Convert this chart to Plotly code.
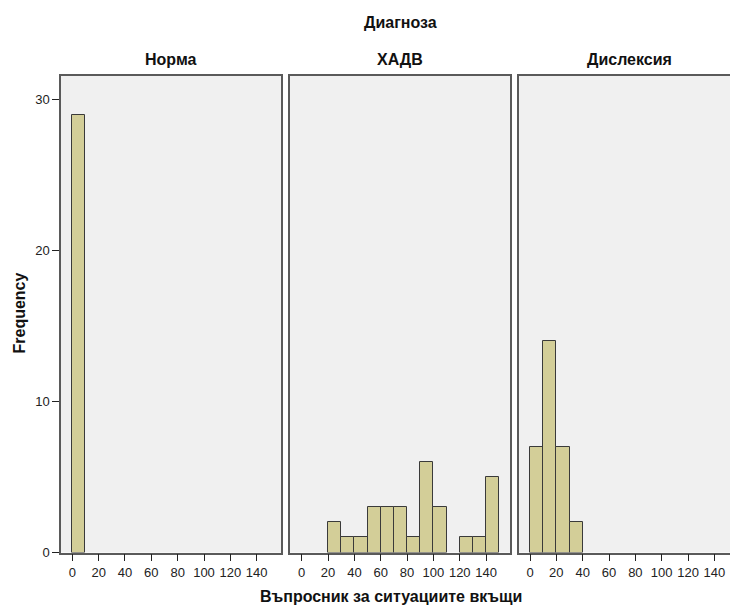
import plotly.graph_objects as go

panels = ["Норма", "ХАДВ", "Дислексия"]
bin_starts = [0, 10, 20, 30, 40, 50, 60, 70, 80, 90, 100, 110, 120, 130, 140]
norma = [29, 0, 0, 0, 0, 0, 0, 0, 0, 0, 0, 0, 0, 0, 0]
hadv = [0, 0, 2, 1, 1, 3, 3, 3, 1, 6, 3, 0, 1, 1, 5]
disl = [7, 14, 7, 2, 0, 0, 0, 0, 0, 0, 0, 0, 0, 0, 0]
x_ticks = [0, 20, 40, 60, 80, 100, 120, 140]
y_ticks = [0, 10, 20, 30]
main_title = "Диагноза"
x_title = "Въпросник за ситуациите вкъщи"
y_title = "Frequency"

W, H = 730, 606
FONT = "Liberation Sans, Arial, sans-serif"
fill = "#d3ce98"
edge = "#3a3a3a"
frame = "#5a5a5a"

fig = go.Figure()
series = [norma, hadv, disl]
# pixel geometry of panels
px_left = [61, 290, 519]
px_zero = [72.3, 301.7, 530.0]
ppu = 1.317
top_px, bot_px = 76, 552.5

for i, vals in enumerate(series):
    xs = [b + 5 for b, v in zip(bin_starts, vals) if v > 0]
    ys = [v for v in vals if v > 0]
    ax = "" if i == 0 else str(i + 1)
    fig.add_trace(go.Bar(x=xs, y=ys, width=10, marker=dict(color=fill, line=dict(color=edge, width=1)),
                         xaxis="x" + ax, yaxis="y" + ax, showlegend=False, hoverinfo="x+y"))
    left = px_left[i]
    right = min(left + 220, W)
    x0 = (left - px_zero[i]) / ppu
    x1 = (right - px_zero[i]) / ppu
    fig.layout["xaxis" + ax] = dict(domain=[left / W, right / W], range=[x0, x1], tickvals=x_ticks,
                                    ticks="outside", ticklen=7, tickcolor="#222", showgrid=False,
                                    zeroline=False, showline=True, linecolor=frame, linewidth=1.5,
                                    mirror=True, anchor="y" + ax, automargin=False, fixedrange=True,
                                    tickfont=dict(family=FONT, size=13, color="#222"))
    yd = dict(domain=[1 - bot_px / H, 1 - top_px / H], range=[0, (bot_px - top_px) / 15.1],
              showgrid=False, zeroline=False, showline=True, linecolor=frame, linewidth=1.5,
              mirror=(i < 2), anchor="x" + ax, fixedrange=True, automargin=False,
              tickfont=dict(family=FONT, size=13, color="#222"))
    if i == 0:
        yd.update(tickvals=y_ticks, ticks="outside", ticklen=7, tickcolor="#222")
    else:
        yd.update(showticklabels=False, ticks="")
    fig.layout["yaxis" + ax] = yd
    fig.add_annotation(x=(left + left + 220) / 2 / W, y=1 - 59 / H, xref="paper", yref="paper",
                       xanchor="center", yanchor="middle",
                       text="<b>%s</b>" % panels[i], showarrow=False,
                       font=dict(family=FONT, size=16, color="#111"))

fig.add_annotation(x=400 / W, y=1 - 23 / H, xref="paper", yref="paper", text="<b>%s</b>" % main_title,
                   xanchor="center", yanchor="middle",
                   showarrow=False, font=dict(family=FONT, size=16, color="#111"))
fig.add_annotation(x=391 / W, y=1 - 596 / H, xref="paper", yref="paper", text="<b>%s</b>" % x_title,
                   xanchor="center", yanchor="middle",
                   showarrow=False, font=dict(family=FONT, size=16, color="#111"))
fig.add_annotation(x=18.5 / W, y=1 - 313 / H, xref="paper", yref="paper", text="<b>%s</b>" % y_title,
                   xanchor="center", yanchor="middle",
                   showarrow=False, textangle=-90, font=dict(family=FONT, size=16, color="#111"))

fig.update_layout(width=W, height=H, margin=dict(l=0, r=0, t=0, b=0, autoexpand=False),
                  paper_bgcolor="white", plot_bgcolor="#f0f0f0", bargap=0)
fig.write_html("out.html")
